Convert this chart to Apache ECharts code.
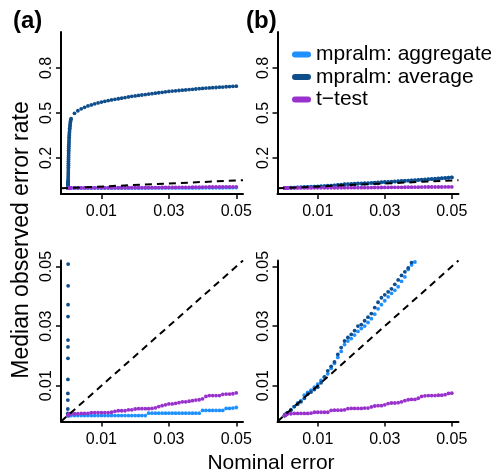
<!DOCTYPE html>
<html><head><meta charset="utf-8">
<script src="https://cdn.jsdelivr.net/npm/echarts@6/dist/echarts.min.js"></script>
<style>html,body{margin:0;padding:0;background:#fff}#c{width:491px;height:476px}</style>
</head><body><div id="c"></div>
<script>
// ---------- data ----------
const seriesNames = ['mpralm: aggregate', 'mpralm: average', 't\u2212test'];
const xTicks = [0.01, 0.03, 0.05];
const yTicksTop = [0.2, 0.5, 0.8];
const yTicksBottom = [0.01, 0.03, 0.05];

const nominal = [0.001,0.002,0.003,0.004,0.005,0.006,0.007,0.008,0.009,0.010,
  0.011,0.012,0.013,0.014,0.015,0.016,0.017,0.018,0.019,0.020,
  0.021,0.022,0.023,0.024,0.025,0.026,0.027,0.028,0.029,0.030,
  0.031,0.032,0.033,0.034,0.035,0.036,0.037,0.038,0.039,0.040,
  0.041,0.042,0.043,0.044,0.045,0.046,0.047,0.048,0.049,0.050];

// panel (a)
const avgA = [0.462,0.498,0.515,0.528,0.538,0.547,0.554,0.561,0.567,0.573,
  0.578,0.583,0.587,0.591,0.595,0.599,0.603,0.607,0.611,0.614,
  0.617,0.620,0.623,0.626,0.629,0.632,0.635,0.638,0.641,0.644,
  0.646,0.648,0.650,0.652,0.654,0.656,0.658,0.660,0.662,0.664,
  0.666,0.667,0.669,0.670,0.672,0.673,0.675,0.676,0.678,0.679];
const aggA = [0,0,0,0,0,0,0,0,0,0,
  0,0,0,0,0,0,0,0,0,0,
  0,0,0,0.0008,0.0008,0.0008,0.0008,0.0008,0.0008,0.0008,
  0.0008,0.0008,0.0008,0.0008,0.0008,0.0008,0.0008,0.0008,0.0008,0.0017,
  0.0017,0.0017,0.0017,0.0017,0.0017,0.0017,0.0024,0.0024,0.0025,0.0027];
const ttestA = [0.0006,0.0006,0.0006,0.0007,0.0007,0.0007,0.0010,0.0010,0.0010,0.0010,
  0.0010,0.0010,0.0011,0.0014,0.0016,0.0016,0.0016,0.0019,0.0019,0.0022,
  0.0023,0.0023,0.0023,0.0023,0.0024,0.0026,0.0030,0.0033,0.0036,0.0039,
  0.0039,0.0041,0.0043,0.0046,0.0046,0.0048,0.0050,0.0052,0.0053,0.0056,
  0.0064,0.0067,0.0067,0.0067,0.0067,0.0071,0.0072,0.0072,0.0073,0.0076];
// near-zero nominal levels (steep column of mpralm: average in panel a)
const nominalColumnA = [0.00001,0.00002,0.00003,0.00004,0.00005,0.00006,0.00007,0.00008,0.00009,0.0001,
  0.00011,0.00012,0.00013,0.00014,0.00015,0.00016,0.00017,0.00018,0.00019,0.0002,
  0.00021,0.00022,0.00023,0.00024,0.00025,0.00026,0.00027,0.00028,0.0003,0.00032,
  0.00034,0.00036,0.00038,0.0004,0.00042,0.00045,0.00048,0.00052,0.00056,0.0006,
  0.00065,0.0007,0.00076,0.00082,0.0009];
const avgColumnA = [0.0007,0.0022,0.0052,0.0074,0.0121,0.0192,0.0230,0.0253,0.0332,0.0372,
  0.0435,0.0508,0.062,0.075,0.088,0.100,0.113,0.126,0.139,0.152,
  0.165,0.178,0.190,0.203,0.215,0.228,0.240,0.252,0.265,0.278,
  0.290,0.302,0.314,0.326,0.338,0.350,0.362,0.374,0.386,0.398,
  0.410,0.422,0.434,0.445,0.455];
const nominalStart = [0.0001,0.0002,0.0003,0.0005,0.0007];
const aggStartA = [0,0,0,0.0001,0.0001];
const ttestStartA = [0,0.0002,0.0004,0.0005,0.0006];

// panel (b)
const avgB = [0.0010,0.0018,0.0030,0.0038,0.0046,0.0058,0.0072,0.0079,0.0087,0.0095,
  0.0110,0.0130,0.0150,0.0165,0.0180,0.0205,0.0228,0.0250,0.0262,0.0272,
  0.0285,0.0300,0.0305,0.0318,0.0330,0.0342,0.0362,0.0380,0.0395,0.0405,
  0.0415,0.0425,0.0440,0.0455,0.0470,0.0482,0.0495,0.0513,0.0525,0.0540,
  0.0555,0.0570,0.0585,0.0600,0.0618,0.0635,0.0655,0.0675,0.0695,0.0715];
const aggB = [0.0008,0.0020,0.0030,0.0042,0.0050,0.0068,0.0078,0.0085,0.0095,0.0105,
  0.0118,0.0128,0.0140,0.0158,0.0175,0.0195,0.0215,0.0238,0.0250,0.0258,
  0.0270,0.0282,0.0292,0.0300,0.0312,0.0325,0.0340,0.0358,0.0372,0.0385,
  0.0398,0.0410,0.0420,0.0432,0.0450,0.0465,0.0490,0.0505,0.0515,0.0528,
  0.0542,0.0556,0.0570,0.0586,0.0603,0.0620,0.0640,0.0660,0.0682,0.0705];
const ttestB = [0.0006,0.0006,0.0007,0.0007,0.0007,0.0007,0.0007,0.0008,0.0011,0.0011,
  0.0011,0.0011,0.0011,0.0017,0.0018,0.0018,0.0018,0.0019,0.0023,0.0024,
  0.0024,0.0024,0.0024,0.0025,0.0025,0.0029,0.0032,0.0033,0.0033,0.0036,
  0.0040,0.0042,0.0042,0.0043,0.0046,0.0050,0.0053,0.0054,0.0054,0.0058,
  0.0064,0.0066,0.0067,0.0067,0.0067,0.0068,0.0068,0.0070,0.0074,0.0075];
const avgStartB = [0,0.0001,0.0003,0.0005,0.0007];
const aggStartB = [0,0.0001,0.0003,0.0004,0.0006];
const ttestStartB = [0,0.0001,0.0002,0.0003,0.0004];

const refLine = [[-0.002, -0.002], [0.052, 0.052]];

// ---------- chart ----------
const FONT = 'Liberation Sans, Arial, Helvetica, sans-serif';
const colors = ['#1E90FF', '#104E8B', '#9932CC'];
const zip = (xs, ys) => xs.map((x, i) => [x, ys[i]]);

const grids = [
  {left: 61, top: 32, width: 182, height: 162},
  {left: 277.5, top: 32, width: 181, height: 162},
  {left: 61, top: 260.5, width: 182, height: 161},
  {left: 277.5, top: 260.5, width: 181, height: 161}
];

function xAx(gi) {
  return {
    type: 'value', gridIndex: gi, min: -0.002, max: 0.052,
    axisLine: {onZero: false, lineStyle: {color: '#000', width: 2}},
    axisTick: {customValues: xTicks, length: 5, lineStyle: {color: '#000', width: 1.5}},
    axisLabel: {customValues: xTicks, fontSize: 16, color: '#000', margin: 10, fontFamily: FONT},
    splitLine: {show: false}
  };
}
function yAx(gi, top) {
  return {
    type: 'value', gridIndex: gi,
    min: top ? -0.04 : -0.002, max: top ? 1.04 : 0.052,
    axisLine: {onZero: false, lineStyle: {color: '#000', width: 2}},
    axisTick: {customValues: top ? yTicksTop : yTicksBottom, length: 5, lineStyle: {color: '#000', width: 1.5}},
    axisLabel: {customValues: top ? yTicksTop : yTicksBottom, rotate: 90, fontSize: 16, color: '#000', margin: 6, fontFamily: FONT},
    splitLine: {show: false}
  };
}

const series = [];
function addPanel(gi, agg, avg, tt) {
  const mk = (name, data, color) => ({
    type: 'scatter', name, xAxisIndex: gi, yAxisIndex: gi, data,
    symbol: 'circle', symbolSize: 3.8, itemStyle: {color, opacity: 1},
    clip: true, silent: true, animation: false
  });
  series.push(mk(seriesNames[0], agg, colors[0]));
  series.push(mk(seriesNames[1], avg, colors[1]));
  series.push(mk(seriesNames[2], tt, colors[2]));
  series.push({
    type: 'line', xAxisIndex: gi, yAxisIndex: gi, data: refLine, symbol: 'none',
    lineStyle: {color: '#000', width: 2, type: [7, 5]}, clip: true, silent: true, z: 5, animation: false
  });
}
const aggAData = zip(nominalStart, aggStartA).concat(zip(nominal, aggA));
const avgAData = zip(nominalColumnA, avgColumnA).concat(zip(nominal, avgA));
const ttAData = zip(nominalStart, ttestStartA).concat(zip(nominal, ttestA));
const aggBData = zip(nominalStart, aggStartB).concat(zip(nominal, aggB));
const avgBData = zip(nominalStart, avgStartB).concat(zip(nominal, avgB));
const ttBData = zip(nominalStart, ttestStartB).concat(zip(nominal, ttestB));
addPanel(0, aggAData, avgAData, ttAData);
addPanel(1, aggBData, avgBData, ttBData);
addPanel(2, aggAData, avgAData, ttAData);
addPanel(3, aggBData, avgBData, ttBData);

const capsule = 'path://M3,0 L16,0 A3,3 0 0 1 16,6 L3,6 A3,3 0 0 1 3,0 Z';

const option = {
  backgroundColor: '#fff',
  animation: false,
  grid: grids,
  xAxis: [xAx(0), xAx(1), xAx(2), xAx(3)],
  yAxis: [yAx(0, true), yAx(1, true), yAx(2, false), yAx(3, false)],
  legend: {
    data: seriesNames.map(n => ({name: n, icon: capsule})),
    orient: 'vertical', left: 287, top: 39,
    itemWidth: 19, itemHeight: 6, itemGap: 1.5,
    selectedMode: false,
    textStyle: {fontSize: 21, color: '#000', fontFamily: FONT}
  },
  graphic: [
    {type: 'text', x: 13, y: 9, style: {text: '(a)', font: 'bold 24px ' + FONT, fill: '#000'}},
    {type: 'text', x: 246, y: 9, style: {text: '(b)', font: 'bold 24px ' + FONT, fill: '#000'}},
    {type: 'text', x: 22, y: 240, rotation: Math.PI / 2,
      style: {text: 'Median observed error rate', font: '23px ' + FONT, fill: '#000', align: 'center', verticalAlign: 'middle'}},
    {type: 'text', x: 271, y: 463,
      style: {text: 'Nominal error', font: '21px ' + FONT, fill: '#000', align: 'center', verticalAlign: 'middle'}}
  ],
  series
};
const chart = echarts.init(document.getElementById('c'));
chart.setOption(option);
</script>
</body></html>
